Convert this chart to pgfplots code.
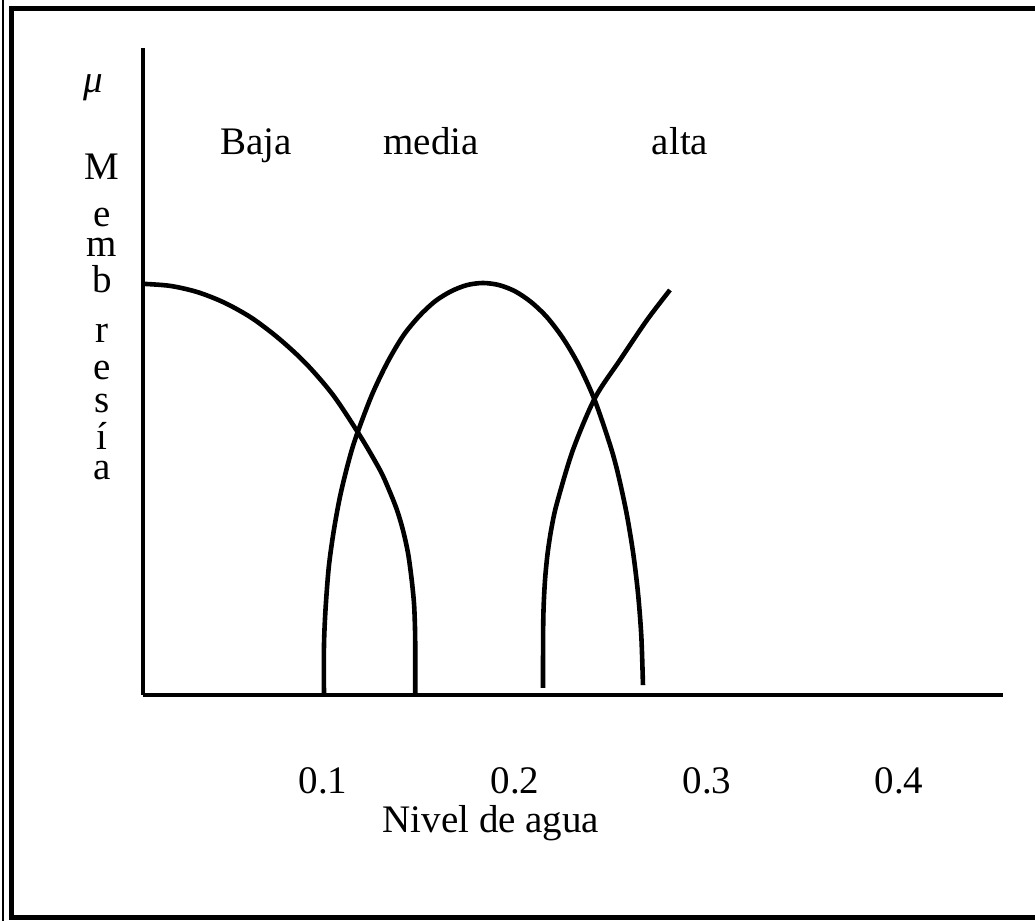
\documentclass[border=0pt]{standalone}
\usepackage{fontspec}
\setmainfont{Liberation Serif}
\usepackage{pgfplots}
\pgfplotsset{compat=1.18}
\begin{document}
\begin{tikzpicture}
\begin{axis}[
  scale only axis,
  width=430pt, height=323.5pt,
  xmin=0.00625, xmax=0.4542,
  ymin=0, ymax=1.5704,
  axis lines=left,
  axis line style={-, line width=1.8pt, black},
  xtick={0.1,0.2,0.3,0.4},
  xticklabels={0.1,0.2,0.3,0.4},
  xtick style={draw=none},
  major tick length=0pt,
  ytick=\empty,
  xticklabel style={anchor=base, yshift=-49.5pt, font=\fontsize{19.5}{22}\selectfont},
  xlabel={Nivel de agua},
  xlabel style={at={(rel axis cs:0.4047,0)}, anchor=base, yshift=-69pt, font=\fontsize{19.5}{22}\selectfont},
  clip=false,
]
% Baja
\addplot[black, line width=2.3pt, smooth, tension=0.5] coordinates {
(0.00625,0.998) (0.02042,0.993) (0.03458,0.978) (0.04875,0.952) (0.06292,0.915)
(0.07708,0.865) (0.09125,0.804) (0.10542,0.727) (0.11958,0.627) (0.12969,0.546)
(0.13438,0.498) (0.13854,0.449) (0.14167,0.400) (0.14427,0.345) (0.14609,0.284)
(0.14740,0.223) (0.14792,0.163) (0.14807,0.102) (0.14807,0)
};
% media
\addplot[black, line width=2.3pt, smooth, tension=0.5] coordinates {
(0.10052,0) (0.10052,0.120) (0.10135,0.210) (0.10301,0.310) (0.10549,0.395)
(0.10880,0.480) (0.11294,0.560) (0.11708,0.625) (0.12536,0.727) (0.13365,0.808)
(0.14193,0.873) (0.15021,0.920) (0.15849,0.956) (0.16677,0.980) (0.17505,0.995)
(0.18333,1.000)
(0.19167,0.995) (0.20000,0.980) (0.20833,0.954) (0.21667,0.917) (0.22500,0.866)
(0.23333,0.800) (0.24167,0.714) (0.25000,0.600) (0.25417,0.527) (0.25833,0.436)
(0.26167,0.341) (0.26417,0.243) (0.26583,0.141) (0.26667,0.024)
};
% alta
\addplot[black, line width=2.3pt, smooth, tension=0.5] coordinates {
(0.21458,0.017) (0.21469,0.163) (0.21500,0.223) (0.21573,0.284) (0.21703,0.345)
(0.21901,0.405) (0.22188,0.466) (0.23021,0.595) (0.24167,0.721) (0.25469,0.813)
(0.26875,0.910) (0.28073,0.983)
};
\coordinate (O) at (rel axis cs:0,0);
\end{axis}
\begin{scope}[font=\fontsize{19.5}{22}\selectfont]
\node[anchor=base] at ([shift={(56.5pt,270pt)}]O) {Baja};
\node[anchor=base] at ([shift={(144pt,270pt)}]O) {media};
\node[anchor=base] at ([shift={(268.5pt,270pt)}]O) {alta};
\node[inner sep=0pt] at ([shift={(-25pt,303.5pt)}]O) {\textit{μ}};
\begin{scope}[every node/.style={anchor=base, inner sep=0pt}]
\node at ([shift={(-20.5pt,257.5pt)}]O) {M};
\node at ([shift={(-20.5pt,234pt)}]O) {e};
\node at ([shift={(-20.5pt,219pt)}]O) {m};
\node at ([shift={(-20.5pt,201pt)}]O) {b};
\node at ([shift={(-20.5pt,176pt)}]O) {r};
\node at ([shift={(-20.5pt,157.5pt)}]O) {e};
\node at ([shift={(-20.5pt,141pt)}]O) {s};
\node at ([shift={(-20.5pt,122.5pt)}]O) {í};
\node at ([shift={(-20.5pt,107.5pt)}]O) {a};
\end{scope}
\end{scope}
% frame
\draw[line width=2.5pt] ([shift={(-65.5pt,343pt)}]O) -- ([shift={(446pt,343pt)}]O);
\draw[line width=2.5pt] ([shift={(-65.5pt,-111.25pt)}]O) -- ([shift={(446pt,-111.25pt)}]O);
\draw[line width=2.5pt] ([shift={(-65.5pt,344.25pt)}]O) -- ([shift={(-65.5pt,-112.5pt)}]O);
\draw[line width=1pt] ([shift={(-70pt,347.5pt)}]O) -- ([shift={(-70pt,-113pt)}]O);
\pgfresetboundingbox
\path ([shift={(-71.5pt,-113pt)}]O) rectangle ([shift={(446pt,347.5pt)}]O);
\end{tikzpicture}
\end{document}
